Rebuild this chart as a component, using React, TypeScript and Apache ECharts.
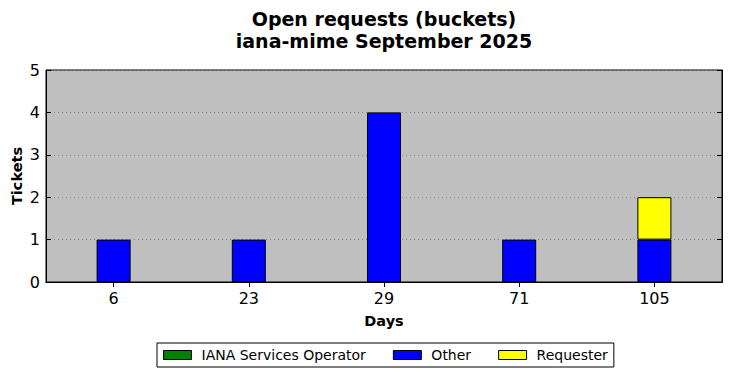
import React, { useEffect, useRef } from "react";
import * as echarts from "echarts";

const categories = ["6", "23", "29", "71", "105"];
const ianaServicesOperator = [0, 0, 0, 0, 0];
const other = [1, 1, 4, 1, 1];
const requester = [0, 0, 0, 0, 1];
const yTicks = [0, 1, 2, 3, 4, 5];

const FONT = "DejaVu Sans";

export default function App() {
  const ref = useRef<HTMLDivElement>(null);
  useEffect(() => {
    if (!ref.current) return;
    const chart = echarts.init(ref.current, null, { renderer: "svg" });
    const nz = (arr: number[]) => arr.map((v) => (v === 0 ? null : v));
    const mk = (name: string, data: number[], color: string) => ({
      name,
      type: "bar",
      stack: "s",
      data: nz(data),
      barWidth: 34,
      itemStyle: { color, borderColor: "#000", borderWidth: 1 },
      xAxisIndex: 0,
      yAxisIndex: 0,
    });
    chart.setOption({
      animation: false,
      backgroundColor: "#fff",
      textStyle: { fontFamily: FONT },
      graphic: [
        {
          type: "text",
          x: 384,
          y: 8,
          style: {
            text: "Open requests (buckets)\niana-mime September 2025",
            font: `bold 19px ${FONT}`,
            textAlign: "center",
            lineHeight: 22,
            fill: "#000",
          },
        },
      ],
      grid: {
        left: 46,
        right: 10,
        top: 70,
        bottom: 96,
        outerBoundsMode: "none",
        containLabel: false,
        show: true,
        backgroundColor: "#bfbfbf",
        borderColor: "#000",
        borderWidth: 1,
      },
      legend: {
        left: 157,
        top: 343,
        padding: [5, 6, 5, 6],
        itemGap: 27,
        itemWidth: 28,
        itemHeight: 9,
        icon: "rect",
        borderColor: "#000",
        borderWidth: 1,
        borderRadius: 0,
        textStyle: { fontFamily: FONT, fontSize: 14, color: "#000", padding: [0, 0, 0, 5] },
        itemStyle: { borderColor: "#000", borderWidth: 1 },
        data: ["IANA Services Operator", "Other", "Requester"],
      },
      xAxis: [
        {
          type: "category",
          data: categories,
          position: "bottom",
          name: "Days",
          nameLocation: "middle",
          nameGap: 31,
          nameMoveOverlap: false,
          nameTextStyle: { fontFamily: FONT, fontSize: 14.5, fontWeight: "bold", color: "#000" },
          axisLine: { show: true, lineStyle: { color: "#000" } },
          axisTick: { show: true, inside: true, alignWithLabel: true, length: 5, lineStyle: { color: "#000" } },
          axisLabel: { fontFamily: FONT, fontSize: 16, color: "#000", margin: 8 },
          splitLine: { show: false },
        },
        {
          type: "category",
          data: categories,
          position: "top",
          axisLine: { show: true, lineStyle: { color: "#000" } },
          axisTick: { show: true, inside: true, alignWithLabel: true, length: 5, lineStyle: { color: "#000" } },
          axisLabel: { show: false },
          splitLine: { show: false },
        },
      ],
      yAxis: [
        {
          type: "value",
          min: yTicks[0],
          max: yTicks[yTicks.length - 1],
          interval: 1,
          name: "Tickets",
          nameLocation: "middle",
          nameGap: 22,
          nameMoveOverlap: false,
          nameTextStyle: { fontFamily: FONT, fontSize: 14.5, fontWeight: "bold", color: "#000" },
          axisLine: { show: true, lineStyle: { color: "#000" } },
          axisTick: { show: true, inside: true, length: 5, lineStyle: { color: "#000" } },
          axisLabel: { fontFamily: FONT, fontSize: 16, color: "#000", margin: 6 },
          splitLine: { show: true, lineStyle: { color: "#8a8a8a", type: [1, 3], width: 1 } },
        },
        {
          type: "value",
          position: "right",
          min: yTicks[0],
          max: yTicks[yTicks.length - 1],
          interval: 1,
          axisLine: { show: true, lineStyle: { color: "#000" } },
          axisTick: { show: true, inside: true, length: 5, lineStyle: { color: "#000" } },
          axisLabel: { show: false },
          splitLine: { show: false },
        },
      ],
      series: [
        mk("IANA Services Operator", ianaServicesOperator, "#008000"),
        mk("Other", other, "#0000ff"),
        mk("Requester", requester, "#ffff00"),
      ],
    });
    return () => chart.dispose();
  }, []);
  return <div ref={ref} style={{ width: 732, height: 378, position: "absolute", left: 0, top: 0 }} />;
}
